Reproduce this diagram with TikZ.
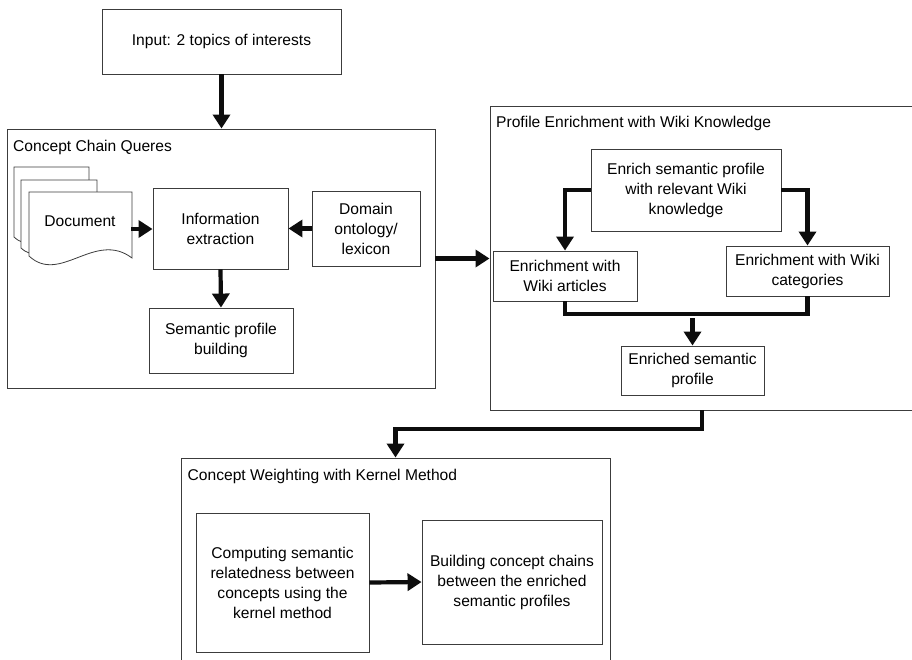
\documentclass[tikz,border=0pt]{standalone}
\usepackage{fontspec}
\setmainfont{Liberation Sans}
\usetikzlibrary{arrows.meta}
\definecolor{edgegray}{HTML}{3C3C3C}
\begin{document}
\begin{tikzpicture}[x=1pt,y=-1pt,
  every node/.style={font=\fontsize{15.6}{20}\selectfont},
  box/.style={draw=edgegray, line width=0.9pt, fill=white, inner sep=0pt, align=center},
  frame/.style={draw=edgegray, line width=0.9pt, inner sep=0pt},
  ttl/.style={anchor=west, inner sep=0pt},
  page/.style={draw=edgegray, line width=0.8pt, fill=white},
  arr/.style={line width=4.2pt, black!95, -{Triangle[length=14pt,width=17pt]}},
  thick line/.style={line width=4.2pt, black!95},
]
\useasboundingbox (0,0) rectangle (912,659);
\clip (0,0) rectangle (912,659);

% containers
\node[frame, minimum width=428pt, minimum height=259pt] (c1) at (221,258.5) {};
\node[ttl] (t1) at (13,147) {Concept Chain Queres};
\node[frame, minimum width=424pt, minimum height=304pt] (c2) at (702,258) {};
\node[ttl] (t2) at (496,123) {Profile Enrichment with Wiki Knowledge};
\node[frame, minimum width=429pt, minimum height=262pt] (c3) at (395.5,589) {};
\node[ttl] (t3) at (187.5,476) {Concept Weighting with Kernel Method};

% input
\node[box, minimum width=239pt, minimum height=65pt] (input) at (221.5,41.5) {Input: 2 topics of interests};

% documents
\path[page] (14,167) -- (89,167) -- (89,239) .. controls (62,218) and (36.6,258) .. (14,237) -- cycle;
\path[page] (21,180) -- (97,180) -- (97,250) .. controls (70,229) and (44,269) .. (21,248) -- cycle;
\path[page] (29,192) -- (132,192) -- (132,258) .. controls (95,230) and (60,285) .. (29,256) -- cycle;
\node[inner sep=0pt] (doc) at (80,221) {Document};
\coordinate (docR) at (131,229);

\node[box, minimum width=135pt, minimum height=81pt] (info) at (220.5,228.5) {Information\\extraction};
\node[box, minimum width=108pt, minimum height=75pt] (domain) at (366,228.5) {Domain\\ontology/\\lexicon};
\node[box, minimum width=144pt, minimum height=65pt] (spb) at (221,340.5) {Semantic profile\\building};

\node[box, minimum width=190pt, minimum height=82pt] (enrich) at (686,190) {Enrich semantic profile\\with relevant Wiki\\knowledge};
\node[box, minimum width=144pt, minimum height=50pt] (art) at (565,276) {Enrichment with\\Wiki articles};
\node[box, minimum width=163pt, minimum height=50pt] (cat) at (807.5,271) {Enrichment with Wiki\\categories};
\node[box, minimum width=143pt, minimum height=49pt] (enr) at (692.5,370.5) {Enriched semantic\\profile};

\node[box, minimum width=173pt, minimum height=139pt] (comp) at (282.5,582.5) {Computing semantic\\relatedness between\\concepts using the\\kernel method};
\node[box, minimum width=180pt, minimum height=124pt] (build) at (512,582) {Building concept chains\\between the enriched\\semantic profiles};

% connectors
\draw[arr] (input.south) -- (input.south |- c1.north);
\draw[arr] (docR) -- (info.west |- docR);
\draw[arr] (domain.west) -- (info.east);
\draw[arr] (info.south) -- (spb.north);
\draw[arr] (c1.east) -- (c2.west |- c1.east);
\draw[arr] (enrich.west) -| (art.north);
\draw[arr] (enrich.east) -| (cat.north);
\coordinate (mrg) at (692.5,314);
\draw[thick line] (art.south) |- (mrg) -| (cat.south);
\draw[arr] ([yshift=-4pt]mrg) -- (enr.north);
\coordinate (turn) at (702,429);
\draw[arr] (c2.south) -- (turn) -| (c3.north);
\draw[arr] (comp.east) -- (build.west);
\end{tikzpicture}
\end{document}
